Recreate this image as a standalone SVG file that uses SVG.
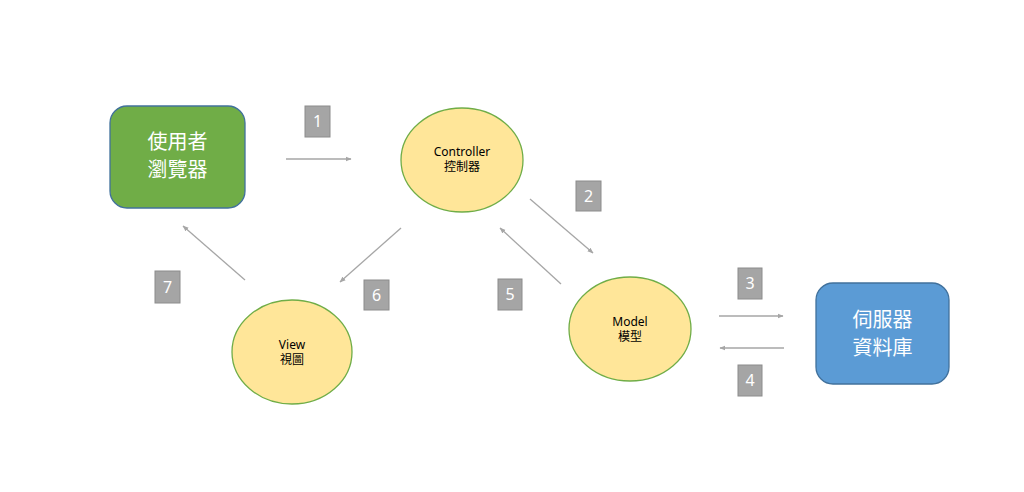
<svg xmlns="http://www.w3.org/2000/svg" width="1024" height="492" viewBox="0 0 1024 492">
<style>
.box{stroke:#41719C;stroke-width:1.3}
.ell{fill:#FFE699;stroke:#70AD47;stroke-width:1.3}
.btxt{font-family:"Noto Sans CJK TC","Noto Sans",sans-serif;font-size:20px;fill:#fff;text-anchor:middle}
.etxt{font-family:"Noto Sans","Noto Sans CJK TC",sans-serif;font-size:12px;fill:#000;text-anchor:middle}
.num{fill:#A5A5A5;stroke:#8C8C8C;stroke-width:1}
.ntxt{font-family:"Noto Sans","Liberation Sans",sans-serif;font-size:16px;fill:#fff;text-anchor:middle}
.conn{stroke:#A6A6A6;stroke-width:1.3;fill:none;marker-end:url(#ah)}
</style>
<defs>
<marker id="ah" viewBox="0 0 10 10" refX="9" refY="5" markerWidth="6" markerHeight="6" orient="auto" markerUnits="userSpaceOnUse">
<path d="M0,1 L10,5 L0,9 z" fill="#A6A6A6"/>
</marker>
</defs>
<rect width="1024" height="492" fill="#fff"/>
<g id="connectors">
<line class="conn" x1="286" y1="159" x2="351" y2="159"/>
<line class="conn" x1="530" y1="199" x2="593" y2="253"/>
<line class="conn" x1="561" y1="284" x2="500" y2="228"/>
<line class="conn" x1="719" y1="316" x2="783" y2="316"/>
<line class="conn" x1="784" y1="348" x2="720" y2="348"/>
<line class="conn" x1="401" y1="228" x2="340" y2="282"/>
<line class="conn" x1="245" y1="280" x2="183" y2="226"/>
</g>
<g id="browser">
<rect class="box" x="110" y="106" width="135" height="102" rx="17" fill="#70AD47"/>
<text class="btxt" x="177.5" y="149">使用者</text>
<text class="btxt" x="177.5" y="177">瀏覽器</text>
</g>
<g id="controller">
<ellipse class="ell" cx="462" cy="160" rx="61" ry="52"/>
<text class="etxt" x="462" y="156">Controller</text>
<text class="etxt" x="462" y="171">控制器</text>
</g>
<g id="model">
<ellipse class="ell" cx="630" cy="329" rx="61" ry="52"/>
<text class="etxt" x="630" y="326">Model</text>
<text class="etxt" x="630" y="341">模型</text>
</g>
<g id="view">
<ellipse class="ell" cx="292" cy="352" rx="60" ry="52"/>
<text class="etxt" x="292" y="349">View</text>
<text class="etxt" x="292" y="364">視圖</text>
</g>
<g id="database">
<rect class="box" x="816" y="283" width="133" height="101" rx="17" fill="#5B9BD5"/>
<text class="btxt" x="882.5" y="327">伺服器</text>
<text class="btxt" x="882.5" y="355">資料庫</text>
</g>
<g id="label1"><rect class="num" x="305" y="106" width="25" height="31"/><text class="ntxt" x="317.5" y="127">1</text></g>
<g id="label2"><rect class="num" x="576" y="181" width="25" height="30"/><text class="ntxt" x="588.5" y="202">2</text></g>
<g id="label3"><rect class="num" x="738" y="268" width="24" height="31"/><text class="ntxt" x="750" y="289">3</text></g>
<g id="label4"><rect class="num" x="738" y="365" width="24" height="31"/><text class="ntxt" x="750" y="386">4</text></g>
<g id="label5"><rect class="num" x="498" y="279" width="24" height="31"/><text class="ntxt" x="510" y="300">5</text></g>
<g id="label6"><rect class="num" x="364" y="280" width="25" height="30"/><text class="ntxt" x="376.5" y="301">6</text></g>
<g id="label7"><rect class="num" x="155" y="271" width="25" height="32"/><text class="ntxt" x="167.5" y="293">7</text></g>
</svg>
